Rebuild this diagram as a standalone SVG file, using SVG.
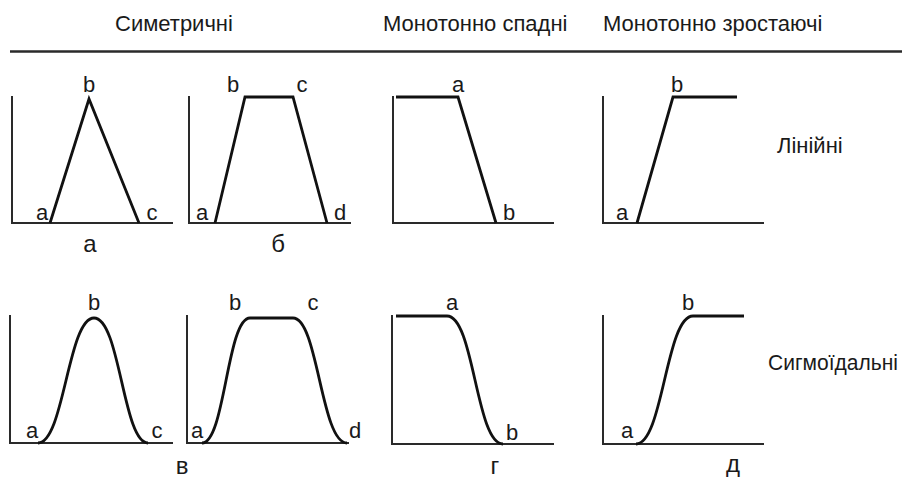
<svg xmlns="http://www.w3.org/2000/svg" width="904" height="480" viewBox="0 0 904 480">
<style>
  .bg { fill: #ffffff; }
  .axis { fill: none; stroke: #2a2a2a; stroke-width: 2; stroke-linecap: square; }
  .curve { fill: none; stroke: #111111; stroke-width: 2.8; stroke-linejoin: miter; stroke-linecap: butt; }
  .rule { stroke: #2a2a2a; stroke-width: 2.5; }
  text { font-family: "Liberation Sans", Arial, sans-serif; fill: #1a1a1a; }
  .title { font-size: 22px; }
  .lbl { font-size: 22px; text-anchor: middle; }
  .cap { font-size: 24px; text-anchor: middle; }
  .side { font-size: 22px; }
</style>
<rect class="bg" x="0" y="0" width="904" height="480"/>

<g id="header">
  <text class="title" x="115" y="31">Симетричні</text>
  <text class="title" x="383" y="31">Монотонно спадні</text>
  <text class="title" x="603" y="31">Монотонно зростаючі</text>
  <line class="rule" x1="10" y1="51.5" x2="902" y2="51.5"/>
</g>

<g id="row-labels">
  <text class="side" x="777" y="153">Лінійні</text>
  <text class="side" x="768" y="370" textLength="130" lengthAdjust="spacingAndGlyphs">Сигмоїдальні</text>
</g>

<!-- Top row: linear -->
<g id="panel-a-linear">
  <path class="axis" d="M12,97 L12,223 L172,223"/>
  <path class="curve" d="M50,223 L89,99 L139,223"/>
  <text class="lbl" x="89" y="92">b</text>
  <text class="lbl" x="42" y="220">a</text>
  <text class="lbl" x="152" y="220">c</text>
  <text class="cap" x="90" y="252">а</text>
</g>

<g id="panel-b-linear">
  <path class="axis" d="M189,97 L189,223 L350,223"/>
  <path class="curve" d="M215,223 L245,97 L293,97 L327,223"/>
  <text class="lbl" x="233" y="92">b</text>
  <text class="lbl" x="302" y="92">c</text>
  <text class="lbl" x="202" y="220">a</text>
  <text class="lbl" x="340" y="220">d</text>
  <text class="cap" x="278" y="252">б</text>
</g>

<g id="panel-g-linear">
  <path class="axis" d="M393,97 L393,223 L553,223"/>
  <path class="curve" d="M396,97 L458,97 L496,223"/>
  <text class="lbl" x="458" y="92">a</text>
  <text class="lbl" x="509" y="220">b</text>
</g>

<g id="panel-d-linear">
  <path class="axis" d="M603,97 L603,223 L763,223"/>
  <path class="curve" d="M637,223 L673,97 L737,97"/>
  <text class="lbl" x="677" y="92">b</text>
  <text class="lbl" x="622" y="220">a</text>
</g>

<!-- Bottom row: sigmoidal -->
<g id="panel-v-bell">
  <path class="axis" d="M10,316 L10,443 L172,443"/>
  <path class="curve" d="M38,443 C64,443 68,318 94,318 C120,318 123,443 148,443"/>
  <text class="lbl" x="94" y="310">b</text>
  <text class="lbl" x="32" y="438">a</text>
  <text class="lbl" x="157" y="438">c</text>
</g>

<g id="panel-v-trap">
  <path class="axis" d="M187,316 L187,443 L348,443"/>
  <path class="curve" d="M202,443 C225,443 227,318 250,318 L293,318 C318,318 321,443 347,443"/>
  <text class="lbl" x="235" y="310">b</text>
  <text class="lbl" x="313" y="310">c</text>
  <text class="lbl" x="197" y="438">a</text>
  <text class="lbl" x="355" y="438">d</text>
  <text class="cap" x="182" y="474">в</text>
</g>

<g id="panel-g-sigmoid">
  <path class="axis" d="M392,316 L392,444 L553,444"/>
  <path class="curve" d="M396,316 L447,316 C474,316 476,444 503,444"/>
  <text class="lbl" x="452" y="310">a</text>
  <text class="lbl" x="512" y="440">b</text>
  <text class="cap" x="495" y="474">г</text>
</g>

<g id="panel-d-sigmoid">
  <path class="axis" d="M603,316 L603,444 L763,444"/>
  <path class="curve" d="M636,444 C663,444 666,316 693,316 L744,316"/>
  <text class="lbl" x="688" y="310">b</text>
  <text class="lbl" x="627" y="438">a</text>
  <text class="cap" x="733" y="472">д</text>
</g>
</svg>
